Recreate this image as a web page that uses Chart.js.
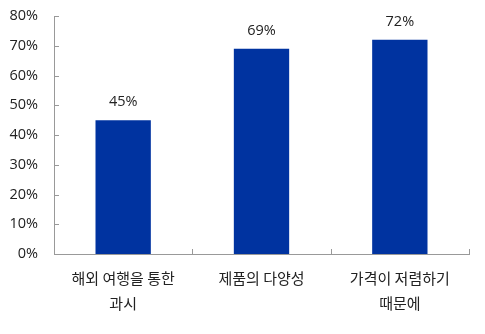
<!DOCTYPE html>
<html>
<head>
<meta charset="utf-8">
<script src="https://cdn.jsdelivr.net/npm/chart.js@4"></script>
<style>
  html, body { margin: 0; padding: 0; background: #fff; }
  #wrap { width: 485px; height: 334px; position: relative; }
</style>
</head>
<body>
<div id="wrap"><canvas id="chart"></canvas></div>
<script>
const categories = [
    ['해외 여행을 통한', '과시'],
    ['제품의 다양성'],
    ['가격이 저렴하기', '때문에'],
];
const values = [45, 69, 72];
const yTicks = [0, 10, 20, 30, 40, 50, 60, 70, 80];

const korFont = "'Noto Sans CJK KR', 'Noto Sans', sans-serif";
const numFont = "'Open Sans', 'Noto Sans', sans-serif";

// value labels above bars
const valueLabels = {
    id: 'valueLabels',
    afterDatasetsDraw(chart) {
        const ctx = chart.ctx;
        const meta = chart.getDatasetMeta(0);
        ctx.save();
        ctx.font = '14.5px ' + numFont;
        ctx.fillStyle = '#222';
        ctx.textAlign = 'center';
        ctx.textBaseline = 'middle';
        meta.data.forEach((bar, i) => {
            ctx.fillText(values[i] + '%', bar.x, bar.y - 18);
        });
        ctx.restore();
    }
};

// small tick marks pointing into the plot
const innerTicks = {
    id: 'innerTicks',
    afterDraw(chart) {
        const ctx = chart.ctx;
        const x = chart.scales.x;
        const y = chart.scales.y;
        ctx.save();
        ctx.strokeStyle = '#999';
        ctx.lineWidth = 1;
        ctx.beginPath();
        yTicks.forEach(v => {
            const py = Math.round(y.getPixelForValue(v)) + 0.5;
            ctx.moveTo(x.left, py);
            ctx.lineTo(x.left + 5, py);
        });
        for (let i = 0; i <= categories.length; i++) {
            const px = Math.round(x.getPixelForValue(i - 0.5)) + 0.5;
            ctx.moveTo(px, y.bottom);
            ctx.lineTo(px, y.bottom - 5);
        }
        ctx.stroke();
        ctx.restore();
    }
};

new Chart(document.getElementById('chart'), {
    type: 'bar',
    data: {
        labels: categories,
        datasets: [{
            data: values,
            backgroundColor: '#0033a0',
            barPercentage: 0.8,
            categoryPercentage: 0.5,
        }]
    },
    options: {
        responsive: true,
        maintainAspectRatio: false,
        animation: false,
        layout: { padding: { top: 16, right: 16, left: 0, bottom: 0 } },
        plugins: {
            legend: { display: false },
            tooltip: { enabled: false },
        },
        scales: {
            x: {
                grid: { display: false, drawTicks: false },
                border: { display: true, color: '#999', width: 1 },
                ticks: {
                    padding: 12,
                    color: '#222',
                    font: { size: 15, family: korFont, lineHeight: 1.65 },
                    maxRotation: 0,
                    autoSkip: false,
                },
                afterFit(scale) {
                    scale.height = 80;
                    scale.paddingLeft = 0;
                    scale.paddingRight = 0;
                }
            },
            y: {
                min: 0,
                max: 80,
                grid: { display: false, drawTicks: false },
                border: { display: true, color: '#999', width: 1 },
                ticks: {
                    stepSize: 10,
                    padding: 16,
                    color: '#222',
                    font: { size: 14.5, family: numFont },
                    callback: (v) => v + '%',
                },
                afterFit(scale) {
                    scale.width = 54;
                    scale.paddingTop = 0;
                    scale.paddingBottom = 0;
                }
            }
        }
    },
    plugins: [valueLabels, innerTicks]
});
</script>
</body>
</html>
